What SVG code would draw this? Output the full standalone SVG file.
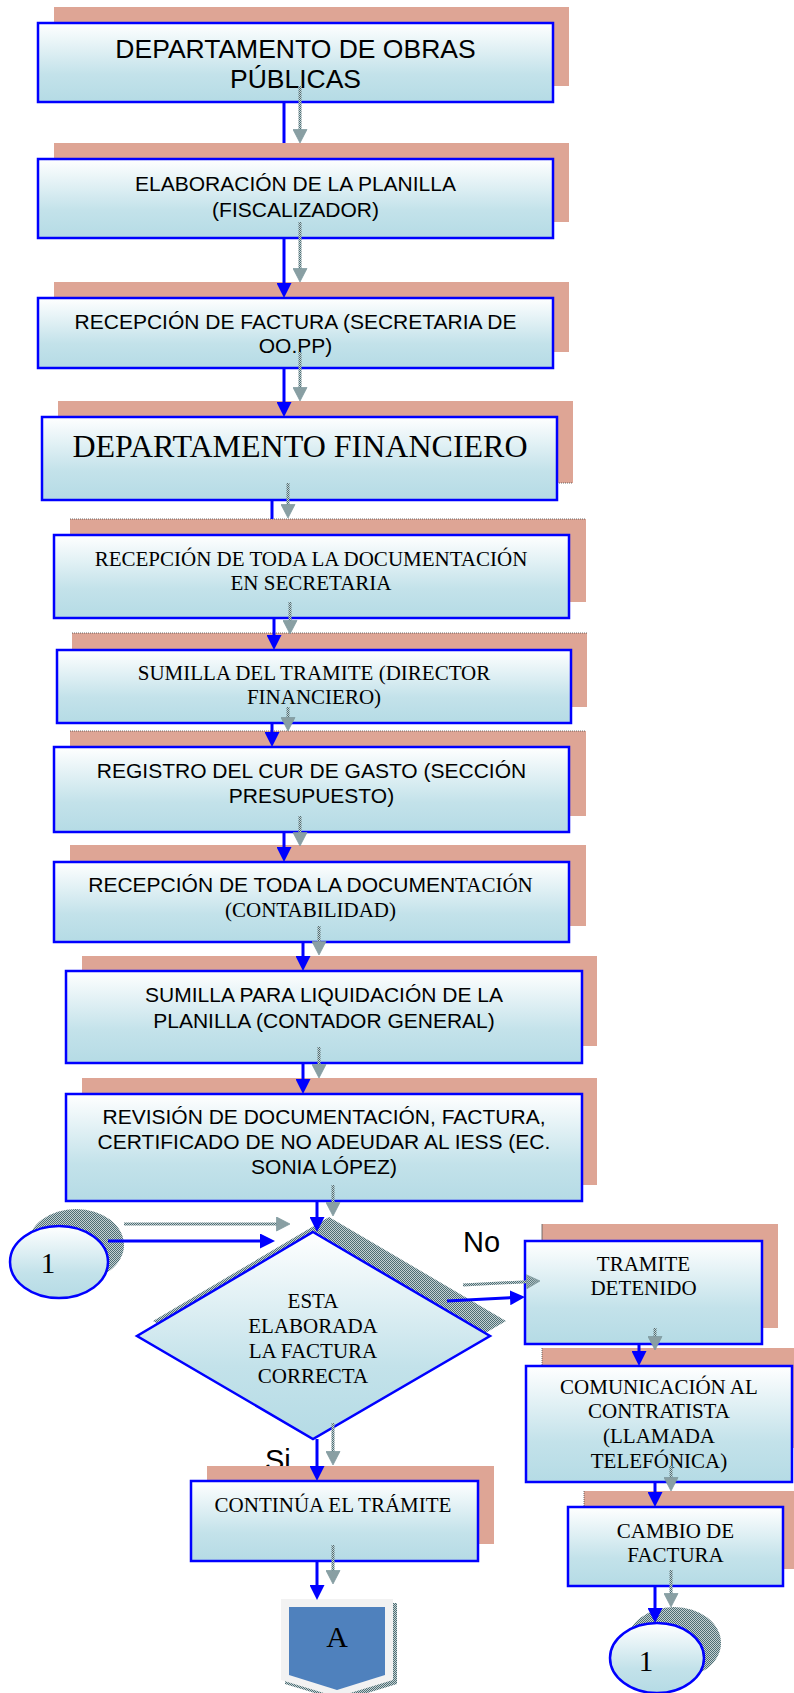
<svg xmlns="http://www.w3.org/2000/svg" width="794" height="1693" viewBox="0 0 794 1693">
  <defs>
    <style>
      .box { fill: url(#boxfill); stroke: #0000ff; stroke-width: 2.5; }
      .sh { fill: #dea595; }
      .edge { stroke: #4a4a4a; stroke-width: 0.8; stroke-dasharray: 1 1; fill: none; }
      .hatch { fill: url(#dots); }
      .a { font-family: "Liberation Sans", Arial, sans-serif; font-size: 21px; fill: #000; text-anchor: middle; }
      .t { font-family: "Liberation Serif", "Times New Roman", serif; font-size: 21px; fill: #000; text-anchor: middle; }
      .lbl { font-family: "Liberation Sans", Arial, sans-serif; font-size: 29px; fill: #000; }
      .flow { stroke: #0000ff; stroke-width: 3; fill: none; marker-end: url(#ab); }
      .flow0 { stroke: #0000ff; stroke-width: 3; fill: none; }
      .ghost { stroke: url(#dots); stroke-width: 3; fill: none; marker-end: url(#ag); }
    </style>
    <linearGradient id="boxfill" x1="0" y1="0" x2="0" y2="1">
      <stop offset="0" stop-color="#ffffff"/>
      <stop offset="0.65" stop-color="#c3e2ea"/>
      <stop offset="1" stop-color="#b5dbe5"/>
    </linearGradient>
    <pattern id="dots" width="2" height="2" patternUnits="userSpaceOnUse">
      <rect width="2" height="2" fill="#c4d0d2"/>
      <rect width="1" height="1" fill="#4d6e74"/>
      <rect x="1" y="1" width="1" height="1" fill="#4d6e74"/>
    </pattern>
    <marker id="ab" markerUnits="userSpaceOnUse" viewBox="0 0 15 15" markerWidth="15" markerHeight="15" refX="7" refY="7.5" orient="auto">
      <path d="M0,0 L15,7.5 L0,15 Z" fill="#0000ff"/>
    </marker>
    <marker id="ag" markerUnits="userSpaceOnUse" viewBox="0 0 15 15" markerWidth="15" markerHeight="15" refX="6" refY="7.5" orient="auto">
      <path d="M0.5,0.5 L14,7.5 L0.5,14.5 Z" fill="url(#dots)" stroke="#7b979c" stroke-width="0.7"/>
    </marker>
  </defs>

  <rect width="794" height="1693" fill="#ffffff"/>

  <!-- yes / no labels (partly hidden by the box below) -->
  <g id="labels">
    <text class="lbl" x="463" y="1252">No</text>
    <text class="lbl" x="265" y="1470">Si</text>
  </g>

  <g id="obras">
    <rect class="sh" x="54" y="7" width="515" height="79"/>
    <rect class="box" x="38" y="23" width="515" height="79"/>
    <text class="a" x="295.5" y="58" style="font-size:26.5px">DEPARTAMENTO DE OBRAS</text>
    <text class="a" x="295.5" y="88" style="font-size:26.5px">PÚBLICAS</text>
  </g>

  <g id="planilla">
    <rect class="sh" x="54" y="143" width="515" height="79"/>
    <rect class="box" x="38" y="159" width="515" height="79"/>
    <text class="a" x="295.5" y="191">ELABORACIÓN DE LA PLANILLA</text>
    <text class="a" x="295.5" y="217">(FISCALIZADOR)</text>
  </g>

  <g id="factura">
    <rect class="sh" x="54" y="282" width="515" height="70"/>
    <rect class="box" x="38" y="298" width="515" height="70"/>
    <text class="a" x="295.5" y="329">RECEPCIÓN DE FACTURA (SECRETARIA DE</text>
    <text class="a" x="295.5" y="353">OO.PP)</text>
  </g>

  <g id="financiero">
    <rect class="sh" x="58" y="401" width="515" height="82"/>
    <line class="edge" x1="557" y1="483" x2="573" y2="483"/>
    <rect class="box" x="42" y="417" width="515" height="83"/>
    <text class="t" x="300" y="457" style="font-size:32px">DEPARTAMENTO FINANCIERO</text>
  </g>

  <g id="secretaria">
    <rect class="sh" x="70" y="519" width="516" height="83"/>
    <line class="edge" x1="70" y1="519" x2="586" y2="519"/>
    <rect class="box" x="54" y="535" width="515" height="83"/>
    <text class="t" x="311" y="566">RECEPCIÓN DE TODA LA DOCUMENTACIÓN</text>
    <text class="t" x="311" y="590">EN SECRETARIA</text>
  </g>

  <g id="director">
    <rect class="sh" x="72" y="633" width="515" height="74"/>
    <line class="edge" x1="72" y1="633" x2="587" y2="633"/>
    <rect class="box" x="57" y="650" width="514" height="73"/>
    <text class="t" x="314" y="680">SUMILLA DEL TRAMITE (DIRECTOR</text>
    <text class="t" x="314" y="704">FINANCIERO)</text>
  </g>

  <g id="presupuesto">
    <rect class="sh" x="70" y="731" width="516" height="85"/>
    <line class="edge" x1="70" y1="731" x2="586" y2="731"/>
    <rect class="box" x="54" y="747" width="515" height="85"/>
    <text class="a" x="311.5" y="778">REGISTRO DEL CUR DE GASTO (SECCIÓN</text>
    <text class="a" x="311.5" y="803">PRESUPUESTO)</text>
  </g>

  <g id="contabilidad">
    <rect class="sh" x="70" y="845" width="516" height="81"/>
    <rect class="box" x="54" y="862" width="515" height="80"/>
    <text class="a" x="310.5" y="892">RECEPCIÓN DE TODA LA DOCUMEN<tspan style="font-family:'Liberation Serif','Times New Roman',serif">TACIÓN</tspan></text>
    <text class="t" x="310.5" y="917">(CONTABILIDAD)</text>
  </g>

  <g id="liquidacion">
    <rect class="sh" x="82" y="956" width="515" height="90"/>
    <rect class="box" x="66" y="971" width="516" height="92"/>
    <text class="a" x="324" y="1002">SUMILLA PARA LIQUIDACIÓN DE LA</text>
    <text class="a" x="324" y="1028">PLANILLA (CONTADOR GENERAL)</text>
  </g>

  <g id="revision">
    <rect class="sh" x="82" y="1078" width="515" height="107"/>
    <rect class="box" x="66" y="1094" width="516" height="107"/>
    <text class="a" x="324" y="1124">REVISIÓN DE DOCUMENTACIÓN, FACTURA,</text>
    <text class="a" x="324" y="1149">CERTIFICADO DE NO ADEUDAR AL IESS (EC.</text>
    <text class="a" x="324" y="1174">SONIA LÓPEZ)</text>
  </g>

  <g id="decision">
    <polygon class="hatch" points="329,1217 506,1321 329,1424 153,1321"/>
    <polygon class="box" points="313,1232 490,1336 313,1439 137,1336"/>
    <text class="t" x="313" y="1308">ESTA</text>
    <text class="t" x="313" y="1333">ELABORADA</text>
    <text class="t" x="313" y="1358">LA FACTURA</text>
    <text class="t" x="313" y="1383">CORRECTA</text>
  </g>

  <g id="conector-entrada">
    <ellipse class="hatch" cx="76" cy="1245" rx="48" ry="36"/>
    <ellipse class="box" cx="59" cy="1262" rx="49" ry="36"/>
    <text class="t" x="48" y="1273" style="font-size:29px">1</text>
  </g>

  <g id="detenido">
    <rect class="sh" x="542" y="1224" width="236" height="104"/>
    <line stroke="#555" stroke-width="0.8" x1="542" y1="1224" x2="542" y2="1241"/>
    <rect class="box" x="525" y="1241" width="237" height="103"/>
    <text class="t" x="643.5" y="1271">TRAMITE</text>
    <text class="t" x="643.5" y="1295">DETENIDO</text>
  </g>

  <g id="comunicacion">
    <rect class="sh" x="542" y="1348" width="260" height="100"/>
    <line class="edge" x1="542" y1="1348" x2="542" y2="1366"/>
    <rect class="box" x="526" y="1366" width="266" height="116"/>
    <text class="t" x="659" y="1394">COMUNICACIÓN AL</text>
    <text class="t" x="659" y="1418">CONTRATISTA</text>
    <text class="t" x="659" y="1443">(LLAMADA</text>
    <text class="t" x="659" y="1468">TELEFÓNICA)</text>
  </g>

  <g id="cambio">
    <rect class="sh" x="584" y="1491" width="215" height="78"/>
    <line class="edge" x1="584" y1="1491" x2="584" y2="1507"/>
    <rect class="box" x="568" y="1507" width="215" height="79"/>
    <text class="t" x="675.5" y="1538">CAMBIO DE</text>
    <text class="t" x="675.5" y="1562">FACTURA</text>
  </g>

  <g id="conector-salida">
    <ellipse class="hatch" cx="674" cy="1643" rx="47" ry="36"/>
    <ellipse class="box" cx="657" cy="1658" rx="47" ry="35"/>
    <text class="t" x="646" y="1671" style="font-size:29px">1</text>
  </g>

  <g id="continua">
    <rect class="sh" x="207" y="1466" width="287" height="78"/>
    <rect class="box" x="191" y="1481" width="287" height="80"/>
    <text class="t" x="333" y="1512">CONTINÚA EL TRÁMITE</text>
  </g>

  <g id="pagina-a">
    <polygon class="hatch" points="285,1603 397,1603 397,1684 341,1701 285,1684"/>
    <polygon fill="#f2f2f2" points="281,1599 393,1599 393,1680 337,1697 281,1680"/>
    <polygon fill="#4f81bd" points="289,1607 385,1607 385,1675 337,1690 289,1675"/>
    <text class="t" x="337" y="1647" style="font-size:30px">A</text>
  </g>

  <g id="connectors">
    <!-- main flow -->
    <line class="flow0" x1="284" y1="102" x2="284" y2="143"/>
    <line class="flow" x1="284" y1="238" x2="284" y2="290"/>
    <line class="flow" x1="284" y1="368" x2="284" y2="409"/>
    <line class="flow0" x1="272" y1="500" x2="272" y2="519"/>
    <line class="flow" x1="274" y1="618" x2="274" y2="642"/>
    <line class="flow" x1="272" y1="723" x2="272" y2="739"/>
    <line class="flow" x1="284" y1="832" x2="284" y2="854"/>
    <line class="flow" x1="303" y1="942" x2="303" y2="963"/>
    <line class="flow" x1="303" y1="1063" x2="303" y2="1086"/>
    <line class="flow" x1="317" y1="1201" x2="317" y2="1224"/>
    <line class="flow" x1="108" y1="1241" x2="267" y2="1241"/>
    <line class="flow" x1="447" y1="1301" x2="517" y2="1297.4"/>
    <line class="flow" x1="639" y1="1344" x2="639" y2="1358"/>
    <line class="flow" x1="655" y1="1482" x2="655" y2="1499"/>
    <line class="flow" x1="655" y1="1586" x2="655" y2="1615"/>
    <line class="flow" x1="317" y1="1439" x2="317" y2="1473"/>
    <line class="flow" x1="317" y1="1561" x2="317" y2="1592"/>
    <!-- offset shadows of the flow lines -->
    <line class="ghost" x1="300" y1="86" x2="300" y2="135"/>
    <line class="ghost" x1="300" y1="222" x2="300" y2="274"/>
    <line class="ghost" x1="300" y1="352" x2="300" y2="393"/>
    <line class="ghost" x1="288" y1="483" x2="288" y2="510"/>
    <line class="ghost" x1="290" y1="602" x2="290" y2="626"/>
    <line class="ghost" x1="288" y1="707" x2="288" y2="723"/>
    <line class="ghost" x1="300" y1="816" x2="300" y2="838"/>
    <line class="ghost" x1="319" y1="926" x2="319" y2="947"/>
    <line class="ghost" x1="319" y1="1047" x2="319" y2="1070"/>
    <line class="ghost" x1="333" y1="1185" x2="333" y2="1208"/>
    <line class="ghost" x1="124" y1="1224" x2="282" y2="1224"/>
    <line class="ghost" x1="463" y1="1285" x2="532" y2="1281.4"/>
    <line class="ghost" x1="655" y1="1328" x2="655" y2="1342"/>
    <line class="ghost" x1="671" y1="1466" x2="671" y2="1483"/>
    <line class="ghost" x1="671" y1="1570" x2="671" y2="1599"/>
    <line class="ghost" x1="333" y1="1423" x2="333" y2="1457"/>
    <line class="ghost" x1="333" y1="1545" x2="333" y2="1576"/>
  </g>
</svg>
